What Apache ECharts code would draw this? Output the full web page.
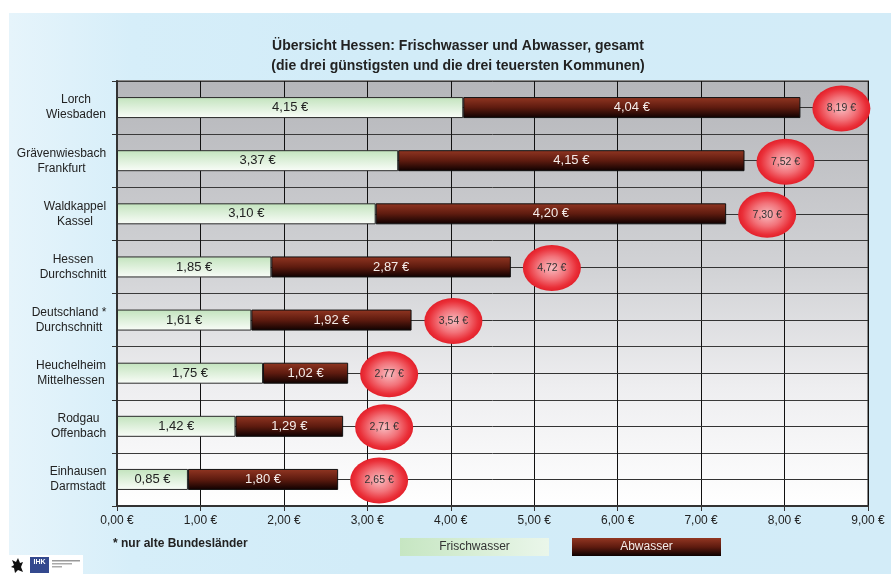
<!DOCTYPE html>
<html>
<head>
<meta charset="utf-8">
<script src="https://cdn.jsdelivr.net/npm/echarts@6/dist/echarts.min.js"></script>
<style>
html,body{margin:0;padding:0;background:#ffffff;}
#bg{position:absolute;left:9px;top:13px;width:882px;height:561px;
  background:linear-gradient(to right,#e6f4fb 0%,#d6eef9 14%,#d2ecf8 40%,#d3ecf8 100%);}
#chart{position:absolute;left:0;top:0;width:891px;height:574px;}
</style>
</head>
<body>
<div id="bg"></div>
<div id="chart"></div>
<script>
const categories = [
  "Lorch\nWiesbaden",
  "Grävenwiesbach\nFrankfurt",
  "Waldkappel\nKassel",
  "Hessen\nDurchschnitt",
  "Deutschland *\nDurchschnitt",
  "Heuchelheim\nMittelhessen",
  "Rodgau\nOffenbach",
  "Einhausen\nDarmstadt"
];
const frischwasser = [4.15, 3.37, 3.10, 1.85, 1.61, 1.75, 1.42, 0.85];
const abwasser     = [4.04, 4.15, 4.20, 2.87, 1.92, 1.02, 1.29, 1.80];
const gesamt       = [8.19, 7.52, 7.30, 4.72, 3.54, 2.77, 2.71, 2.65];
const xTicks = [0, 1, 2, 3, 4, 5, 6, 7, 8, 9];

const FONT = '"Liberation Sans", Arial, sans-serif';
const euro = v => Number(v).toFixed(2).replace('.', ',') + ' €';

// per-label rich styles so each two-line label is centered line-by-line, block right-aligned
const mctx = document.createElement('canvas').getContext('2d');
mctx.font = '12px "Liberation Sans"';
const rich = {};
categories.forEach((c, i) => {
  const w = Math.max(...c.split('\n').map(s => mctx.measureText(s).width));
  rich['r' + i] = {width: Math.ceil(w) + 1, align: 'center', fontSize: 12, fontFamily: FONT, color: '#222', lineHeight: 15};
});

const chart = echarts.init(document.getElementById('chart'), null, {renderer: 'canvas'});

const option = {
  backgroundColor: 'transparent',
  animation: false,
  title: {
    text: 'Übersicht Hessen: Frischwasser und Abwasser, gesamt\n(die drei günstigsten und die drei teuersten Kommunen)',
    left: 453, top: 31, textAlign: 'center',
    textStyle: {fontSize: 14, fontWeight: 'bold', color: '#222', fontFamily: FONT, lineHeight: 20}
  },
  grid: {
    left: 117, right: 23, top: 81, bottom: 68,
    show: true,
    backgroundColor: new echarts.graphic.LinearGradient(0, 0, 0, 1, [
      {offset: 0, color: '#b5b6ba'},
      {offset: 0.45, color: '#d2d3d6'},
      {offset: 0.72, color: '#eeeef0'},
      {offset: 1, color: '#ffffff'}
    ]),
    borderColor: '#8a8a8a', borderWidth: 2
  },
  xAxis: {
    type: 'value', min: xTicks[0], max: xTicks[xTicks.length - 1], interval: 1,
    axisLine: {show: true, lineStyle: {color: '#333', width: 2}},
    axisTick: {show: true, length: 5, lineStyle: {color: '#333'}},
    axisLabel: {formatter: v => euro(v), fontSize: 12, color: '#222', fontFamily: FONT, margin: 9},
    splitLine: {show: true, lineStyle: {color: '#111', width: 1}}
  },
  yAxis: {
    type: 'category', inverse: true, data: categories,
    axisLine: {show: true, lineStyle: {color: '#333', width: 2}},
    axisTick: {show: true, length: 5, lineStyle: {color: '#333'}},
    axisLabel: {
      margin: 10, align: 'right',
      formatter: (v, i) => v.split('\n').map(s => '{r' + i + '|' + s + '}').join('\n'),
      rich: rich
    },
    splitLine: {show: true, lineStyle: {color: '#3a3a3a', width: 1}}
  },
  series: [
    {
      type: 'line', data: [], z: 1, silent: true,
      markLine: {
        z: 1, silent: true, symbol: 'none', label: {show: false},
        lineStyle: {color: '#333', width: 1, type: 'solid'},
        data: categories.map(c => ({yAxis: c}))
      }
    },
    {
      name: 'Frischwasser', type: 'bar', stack: 'gesamt', z: 3, barWidth: 21,
      data: frischwasser,
      itemStyle: {
        color: new echarts.graphic.LinearGradient(0, 0, 0, 1, [
          {offset: 0, color: '#c2e3bd'},
          {offset: 1, color: '#fafdf9'}
        ]),
        borderColor: '#2a2a2a', borderWidth: 1
      },
      label: {show: true, position: 'inside', formatter: p => euro(p.value), fontSize: 13, color: '#222', fontFamily: FONT}
    },
    {
      name: 'Abwasser', type: 'bar', stack: 'gesamt', z: 3, barWidth: 21,
      data: abwasser,
      itemStyle: {
        color: new echarts.graphic.LinearGradient(0, 0, 0, 1, [
          {offset: 0, color: '#923622'},
          {offset: 0.5, color: '#5e1b0f'},
          {offset: 1, color: '#0c0000'}
        ]),
        borderColor: '#111', borderWidth: 1
      },
      label: {show: true, position: 'inside', formatter: p => euro(p.value), fontSize: 13, color: '#f4ece9', fontFamily: FONT}
    },
    {
      name: 'Gesamt', type: 'scatter', z: 4,
      data: gesamt.map((v, i) => [v, categories[i]]),
      symbol: 'circle', symbolSize: [58, 46], symbolOffset: [41, 1],
      itemStyle: {
        opacity: 1,
        color: new echarts.graphic.RadialGradient(0.5, 0.5, 0.5, [
          {offset: 0, color: '#f8bcc0'},
          {offset: 0.5, color: '#f2737a'},
          {offset: 0.85, color: '#ea3039'},
          {offset: 1, color: '#e3202a'}
        ])
      },
      label: {show: true, position: 'inside', formatter: p => euro(p.value[0]), fontSize: 10.5, color: '#333', fontFamily: FONT}
    }
  ],
  graphic: [
    {type: 'text', left: 113, top: 538, style: {text: '* nur alte Bundesländer', font: 'bold 12px ' + FONT, fill: '#222'}},
    {type: 'rect', shape: {x: 400, y: 538, width: 149, height: 18},
      style: {fill: new echarts.graphic.LinearGradient(0, 0, 1, 0, [{offset: 0, color: '#c6e6c2'}, {offset: 1, color: '#eaf6ea'}])}},
    {type: 'text', x: 474.5, y: 547, style: {text: 'Frischwasser', font: '12px ' + FONT, fill: '#333', align: 'center', verticalAlign: 'middle'}},
    {type: 'rect', shape: {x: 572, y: 538, width: 149, height: 18},
      style: {fill: new echarts.graphic.LinearGradient(0, 0, 0, 1, [{offset: 0, color: '#923622'}, {offset: 0.5, color: '#5e1b0f'}, {offset: 1, color: '#0c0000'}])}},
    {type: 'text', x: 646.5, y: 547, style: {text: 'Abwasser', font: '12px ' + FONT, fill: '#f4ece9', align: 'center', verticalAlign: 'middle'}},
    // small logo
    {type: 'rect', shape: {x: 9, y: 555, width: 74, height: 19}, style: {fill: '#ffffff'}},
    {type: 'polygon', shape: {points: [[12,560],[16,562],[18,558],[20,563],[23,562],[21,567],[23,572],[18,570],[15,573],[14,568],[11,567],[14,565]]}, style: {fill: '#111'}},
    {type: 'rect', shape: {x: 30, y: 557, width: 19, height: 16}, style: {fill: '#34498e'}},
    {type: 'text', x: 39.5, y: 562, style: {text: 'IHK', font: 'bold 7px ' + FONT, fill: '#ffffff', align: 'center', verticalAlign: 'middle'}},
    {type: 'rect', shape: {x: 52, y: 560, width: 28, height: 1.5}, style: {fill: '#999'}},
    {type: 'rect', shape: {x: 52, y: 563, width: 20, height: 1.5}, style: {fill: '#aaa'}},
    {type: 'rect', shape: {x: 52, y: 566, width: 10, height: 1.5}, style: {fill: '#aaa'}}
  ]
};
chart.setOption(option);
</script>
</body>
</html>
